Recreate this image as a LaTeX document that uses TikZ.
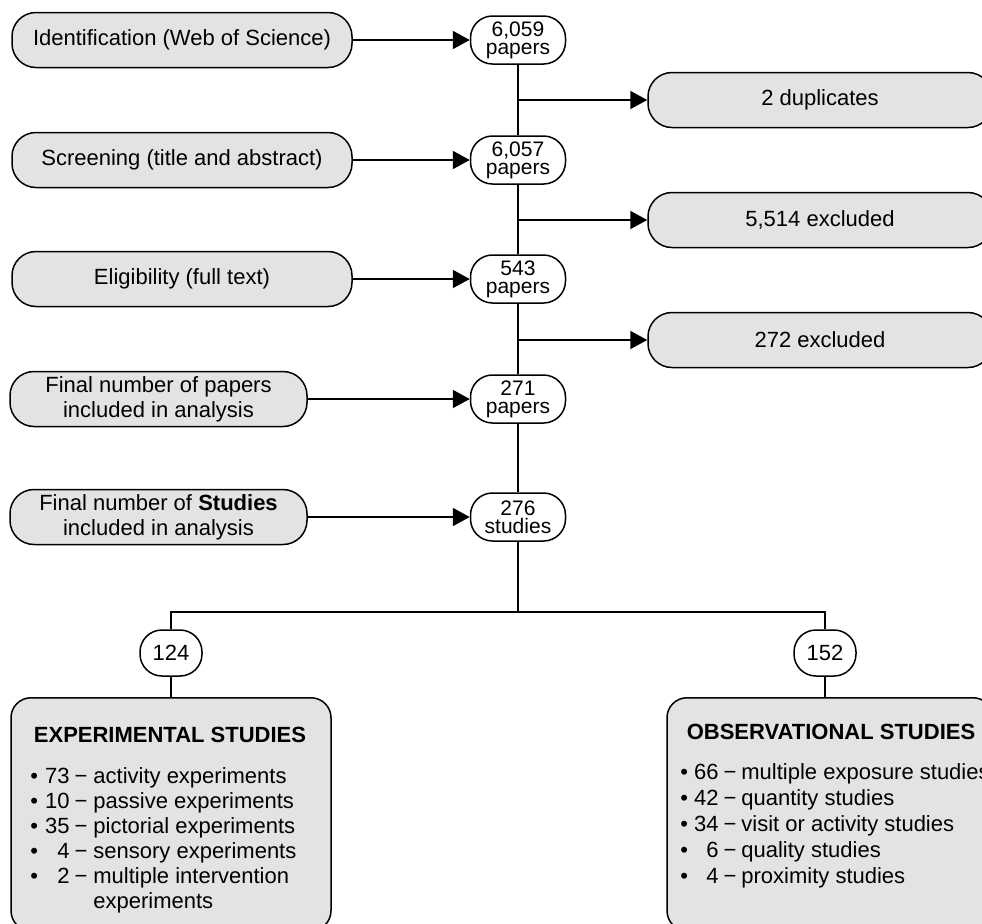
\documentclass[tikz,border=0pt]{standalone}
\usepackage{fontspec}
\setmainfont{Liberation Sans}
\usetikzlibrary{arrows.meta}
\definecolor{boxgray}{RGB}{227,227,227}

\begin{document}
\begin{tikzpicture}[x=0.5pt,y=-0.5pt,
  stage/.style={draw,line width=0.75pt,fill=boxgray,rounded corners=12pt,minimum height=27.5pt,inner sep=0pt,align=center,font=\fontsize{11}{12.5}\selectfont},
  count/.style={draw,line width=0.75pt,fill=white,rounded corners=11pt,minimum width=47.5pt,minimum height=24pt,inner sep=0pt,align=center,font=\fontsize{10.5}{9}\selectfont},
  split/.style={draw,line width=0.75pt,fill=white,rounded corners=11pt,minimum width=31pt,minimum height=23pt,inner sep=0pt,font=\fontsize{11}{12.5}\selectfont},
  group/.style={draw,line width=0.75pt,fill=boxgray,rounded corners=10pt,anchor=north,minimum height=116.5pt},
  items/.style={anchor=north west,inner sep=0pt},
  link/.style={line width=1pt},
  flow/.style={line width=1pt,-{Triangle[length=8.5pt,width=9pt]}}]
  \useasboundingbox(0,0) rectangle(982,923);
  \clip(0,0) rectangle(982,923);
  \node[stage,minimum width=170pt](ident) at(182,40){Identification (Web of Science)};
  \node[stage,minimum width=170pt](screen) at(182,160){Screening (title and abstract)};
  \node[stage,minimum width=170pt](elig) at(182,279){Eligibility (full text)};
  \node[stage,minimum width=148.5pt](finpap) at(158.5,399){Final number of papers\\included in analysis};
  \node[stage,minimum width=148.5pt](finstud) at(158.5,517){Final number of \textbf{Studies}\\included in analysis};
  \node[count](n1) at(518,40){6,059\\papers};
  \node[count](n2) at(518,160){6,057\\papers};
  \node[count](n3) at(518,279){543\\papers};
  \node[count](n4) at(518,399){271\\papers};
  \node[count](n5) at(518,517){276\\studies};
  \node[stage,minimum width=172pt](dup) at(820,100){2 duplicates};
  \node[stage,minimum width=172pt](excl1) at(820,220){5,514 excluded};
  \node[stage,minimum width=172pt](excl2) at(820,340){272 excluded};
  \draw[flow](ident)--(n1);
  \draw[flow](screen)--(n2);
  \draw[flow](elig)--(n3);
  \draw[flow](finpap)--(n4);
  \draw[flow](finstud)--(n5);
  \draw[link](n1.south)--(n2.north);
  \draw[link](n2.south)--(n3.north);
  \draw[link](n3.south)--(n4.north);
  \draw[link](n4.south)--(n5.north);
  \draw[flow](n1 |- dup)--(dup);
  \draw[flow](n2 |- excl1)--(excl1);
  \draw[flow](n3 |- excl2)--(excl2);
  \coordinate(fork) at(518,612);
  \node[split](nexp) at(171,653){124};
  \node[split](nobs) at(825,653){152};
  \draw[link](n5.south)--(fork);
  \draw[link](nexp.north)|-(fork);
  \draw[link](nobs.north)|-(fork);
  \node[group,minimum width=160pt](expbox) at(171,697){};
  \node[group,minimum width=163pt](obsbox) at(830,697){};
  \draw[link](nexp.south)--(expbox.north);
  \draw[link](nobs.south)--(nobs.south |- obsbox.north);
  \node[font=\fontsize{11}{12.5}\selectfont\bfseries](exptitle) at(170,735){EXPERIMENTAL STUDIES};
  \node[font=\fontsize{11}{12.5}\selectfont\bfseries](obstitle) at(831,732){OBSERVATIONAL STUDIES};
  \node[items,font=\fontsize{11}{12.5}\selectfont](explist) at(30,766){\begin{tabular}{@{}l@{\hspace{3.5pt}}r@{\hspace{2.5pt}−\hspace{3pt}}l@{}}
    • & 73 & activity experiments\\
    • & 10 & passive experiments\\
    • & 35 & pictorial experiments\\
    • & 4 & sensory experiments\\
    • & 2 & multiple intervention\\
    \multicolumn{2}{l}{} & experiments
  \end{tabular}};
  \node[items,font=\fontsize{11}{13}\selectfont](obslist) at(680,761){\begin{tabular}{@{}l@{\hspace{3pt}}r@{\hspace{2.5pt}−\hspace{2.5pt}}l@{}}
    • & 66 & multiple exposure studies\\
    • & 42 & quantity studies\\
    • & 34 & visit or activity studies\\
    • & 6 & quality studies\\
    • & 4 & proximity studies
  \end{tabular}};
\end{tikzpicture}
\end{document}
